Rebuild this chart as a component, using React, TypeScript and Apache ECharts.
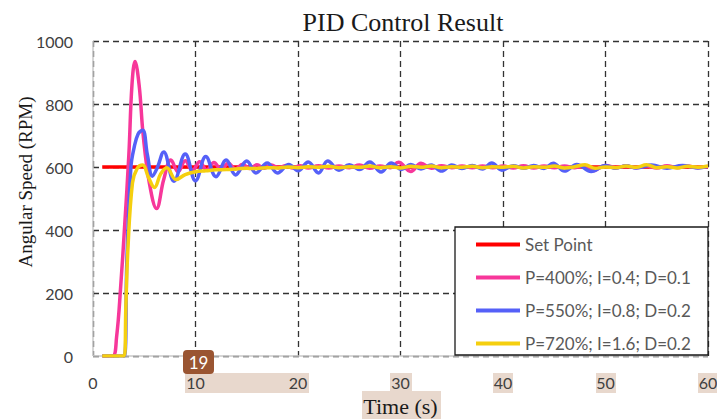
import React, { useEffect, useRef } from "react";
import * as echarts from "echarts";

const seriesNames = [
  "Set Point",
  "P=400%; I=0.4; D=0.1",
  "P=550%; I=0.8; D=0.2",
  "P=720%; I=1.6; D=0.2",
];
const seriesColors = ["#ff0000", "#f7379a", "#5560f8", "#f5cf0f"];

const setPoint = [[0.9, 600], [60, 600]];

const pid400 = [
  [0.9, 0], [1.9, 0], [2.3, 60], [2.7, 220], [3.1, 420], [3.5, 640], [3.8, 860], [4.1, 935],
  [4.5, 860], [4.9, 700], [5.5, 549], [6.2, 468], [6.9, 560], [7.6, 622], [8.3, 585], [9.0, 620],
  [9.7, 588], [10.4, 617], [11.1, 590], [11.8, 614], [12.5, 592], [13.2, 612], [13.9, 594],
  [14.6, 609], [15.3, 595], [16.0, 607], [16.7, 596], [17.4, 606], [18.1, 597], [18.8, 605],
  [19.5, 597], [20.2, 604], [21.0, 597], [22.0, 604], [23.0, 597], [24.0, 603], [25.0, 598],
  [26.0, 606], [27.0, 596], [28.0, 603], [29.0, 598], [29.8, 615], [31.0, 586], [32.0, 612],
  [33.0, 596], [34.0, 604], [35.0, 598], [36.0, 603], [37.0, 598], [38.0, 603], [39.0, 598],
  [40.0, 603], [41.0, 597], [42.0, 604], [43.0, 597], [44.0, 603], [45.0, 598], [46.0, 603],
  [47.0, 598], [48.0, 604], [48.8, 588], [50.0, 605], [51.0, 598], [52.0, 603], [53.0, 598],
  [54.0, 603], [55.0, 597], [56.0, 604], [57.0, 598], [58.0, 603], [59.0, 598], [60.0, 602],
];

const pid550 = [
  [0.9, 0], [3.05, 0], [3.3, 300], [3.7, 600], [4.0, 660], [4.4, 705], [4.85, 717], [5.3, 640],
  [5.8, 571], [6.3, 600], [6.9, 648], [7.9, 555], [9.0, 641], [10.0, 556], [11.0, 633],
  [12.0, 569], [13.0, 622], [13.9, 575], [15.0, 619], [15.9, 581], [17.0, 613], [18.0, 581],
  [19.1, 608], [20.0, 588], [21.0, 616], [22.0, 581], [22.9, 619], [24.0, 590], [25.0, 607],
  [26.0, 592], [27.0, 616], [28.1, 584], [29.1, 613], [30.1, 592], [31.0, 608], [32.0, 594],
  [33.0, 606], [34.0, 587], [35.0, 606], [36.0, 595], [37.0, 605], [38.0, 594], [38.9, 613],
  [39.9, 590], [41.0, 604], [42.0, 596], [43.0, 605], [44.0, 595], [44.9, 612], [46.0, 587],
  [47.2, 608], [48.6, 586], [50.0, 605], [51.0, 596], [52.0, 604], [53.0, 597], [54.5, 606],
  [56.0, 596], [57.5, 605], [59.0, 597], [60.0, 602],
];

const pid720 = [
  [0.9, 0], [3.05, 0], [3.2, 150], [3.4, 336], [3.85, 549], [4.3, 595], [4.85, 606], [5.4, 568],
  [6.0, 535], [6.6, 578], [7.2, 598], [8.1, 560], [9.0, 576], [10.0, 585], [11.0, 588],
  [12.0, 591], [13.0, 592], [14.0, 594], [15.0, 596], [16.0, 595], [17.0, 598], [18.0, 597],
  [19.0, 600], [20.0, 598], [21.0, 601], [22.0, 599], [23.0, 602], [24.0, 598], [25.0, 601],
  [26.0, 599], [27.0, 603], [28.0, 598], [29.0, 601], [30.0, 597], [31.0, 602], [32.0, 599],
  [33.0, 603], [34.0, 598], [35.0, 601], [36.0, 599], [37.0, 602], [38.0, 598], [39.0, 601],
  [40.0, 599], [41.0, 602], [42.0, 597], [43.0, 601], [44.0, 599], [45.0, 603], [46.0, 597],
  [47.0, 601], [48.0, 607], [49.0, 596], [50.0, 600], [51.0, 598], [52.0, 603], [53.0, 599],
  [54.0, 607], [55.0, 598], [56.0, 601], [57.0, 597], [58.0, 602], [59.0, 599], [60.0, 603],
];

const seriesData = [setPoint, pid400, pid550, pid720];

const xMin = 0;
const xMax = 60;
const xStep = 10;
const yMin = 0;
const yMax = 1000;
const yStep = 200;

const titleText = "PID Control Result";
const xName = "Time (s)";
const yName = "Angular Speed (RPM)";
const badgeText = "19";

export default function App() {
  const ref = useRef<HTMLDivElement>(null);

  useEffect(() => {
    if (!ref.current) return;
    const chart = echarts.init(ref.current, null, { renderer: "svg" });
    const gridLeft = 93;
    const gridTop = 41;
    const gridW = 615;
    const gridH = 315;
    const shade = "#e8d8cd";
    const labelFont = "Lato";
    const serif = "Liberation Serif";

    chart.setOption({
      animation: false,
      backgroundColor: "#ffffff",
      title: {
        text: titleText,
        left: 398,
        textAlign: "center",
        top: 4,
        textStyle: { fontFamily: serif, fontSize: 26, fontWeight: "normal", color: "#1a1a1a" },
      },
      grid: {
        left: gridLeft, top: gridTop, width: gridW, height: gridH,
        containLabel: false, outerBoundsMode: "none",
      },
      xAxis: {
        type: "value",
        min: xMin,
        max: xMax,
        interval: xStep,
        name: xName,
        nameLocation: "middle",
        nameGap: 39,
        nameTextStyle: { fontFamily: serif, fontSize: 22, color: "#1a1a1a" },
        axisLine: { show: false },
        axisTick: { show: false },
        axisLabel: { fontFamily: labelFont, fontSize: 16, color: "#404040", margin: 18 },
        splitLine: { show: true, lineStyle: { color: "#333333", width: 1.3, type: [6, 4] } },
      },
      yAxis: {
        type: "value",
        min: yMin,
        max: yMax,
        interval: yStep,
        axisLine: { show: false },
        axisTick: { show: false },
        axisLabel: {
          fontFamily: labelFont, fontSize: 16, color: "#404040", margin: 20,
          formatter: (v: number) => String(v),
        },
        splitLine: { show: true, lineStyle: { color: "#333333", width: 1.3, type: [6, 4] } },
      },
      legend: {
        orient: "vertical",
        left: 476,
        top: 236,
        padding: 0,
        itemGap: 16,
        itemWidth: 44,
        itemHeight: 4,
        icon: "rect",
        data: seriesNames,
        textStyle: { fontFamily: labelFont, fontSize: 17, color: "#595959" },
        z: 10,
      },
      graphic: [
        { type: "rect", z: -1, shape: { x: 185, y: 373, width: 124, height: 20 }, style: { fill: shade } },
        { type: "rect", z: -1, shape: { x: 390, y: 373, width: 22, height: 20 }, style: { fill: shade } },
        { type: "rect", z: -1, shape: { x: 493, y: 373, width: 20, height: 20 }, style: { fill: shade } },
        { type: "rect", z: -1, shape: { x: 596, y: 373, width: 20, height: 20 }, style: { fill: shade } },
        { type: "rect", z: -1, shape: { x: 698, y: 373, width: 20, height: 20 }, style: { fill: shade } },
        { type: "rect", z: -1, shape: { x: 362, y: 391, width: 79, height: 28 }, style: { fill: shade } },
        {
          type: "line", z: 1,
          shape: { x1: gridLeft, y1: gridTop, x2: gridLeft, y2: gridTop + gridH },
          style: { stroke: "#c8c8c8", lineWidth: 1.5 },
        },
        {
          type: "line", z: 1,
          shape: { x1: gridLeft, y1: gridTop + gridH, x2: gridLeft + gridW, y2: gridTop + gridH },
          style: { stroke: "#c8c8c8", lineWidth: 1.5 },
        },
        {
          type: "rect", z: 5,
          shape: { x: 455, y: 227, width: 253, height: 128 },
          style: { fill: "#ffffff", stroke: "#1a1a1a", lineWidth: 1.3 },
        },
        {
          type: "rect", z: 20,
          shape: { x: 183, y: 350, width: 31, height: 24, r: 4 },
          style: { fill: "#9a5532" },
        },
        {
          type: "text", z: 21, x: 198.5, y: 362,
          style: {
            text: badgeText, fill: "#ffffff", fontFamily: labelFont, fontSize: 17,
            textAlign: "center", textVerticalAlign: "middle",
          },
        },
        {
          type: "text", z: 10, x: 25, y: 182, rotation: Math.PI / 2,
          style: {
            text: yName, fill: "#1a1a1a", fontFamily: serif, fontSize: 19,
            textAlign: "center", textVerticalAlign: "middle",
          },
        },
      ],
      series: seriesNames.map((name, i) => ({
        name,
        type: "line",
        data: seriesData[i],
        symbol: "none",
        smooth: i === 0 ? false : 0.4,
        z: 2 + i,
        lineStyle: { color: seriesColors[i], width: 3.5 },
        itemStyle: { color: seriesColors[i] },
      })),
    });

    return () => chart.dispose();
  }, []);

  return (
    <div
      ref={ref}
      style={{ position: "absolute", left: 0, top: 0, width: 717, height: 419 }}
    />
  );
}
